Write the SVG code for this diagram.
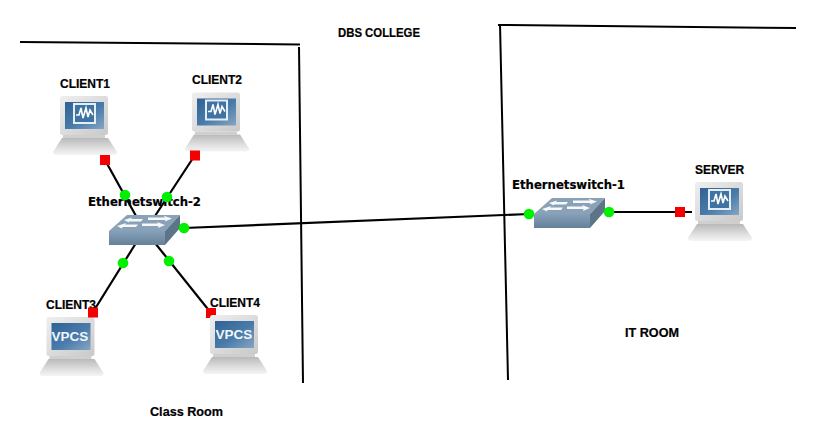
<svg xmlns="http://www.w3.org/2000/svg" width="816" height="443" viewBox="0 0 816 443">
<style>
text{font-family:"Liberation Sans",Arial,sans-serif;font-weight:bold;font-size:12px;fill:#000;stroke:#000;stroke-width:.2}
.sw{font-family:"DejaVu Sans",Verdana,sans-serif;font-size:11.700px}
.vpcs{fill:#f2f6fa;stroke:none;font-size:13.500px}
.wall{stroke:#000;fill:none;stroke-width:2}
.link{stroke:#000;fill:none;stroke-width:2.200}
.up{fill:#00f000}
.down{fill:#f40000}
</style>
<defs>
<linearGradient id="mon" x1="0" y1="0" x2="1" y2="1"><stop offset="0" stop-color="#efefef"/><stop offset="1" stop-color="#c9c9c9"/></linearGradient>
<linearGradient id="base" x1="0" y1="0" x2="0" y2="1"><stop offset="0" stop-color="#b9b9b9"/><stop offset=".55" stop-color="#dcdcdc"/><stop offset="1" stop-color="#f5f5f5"/></linearGradient>
<linearGradient id="scr" x1="0" y1="0" x2="1" y2="1"><stop offset="0" stop-color="#2f6193"/><stop offset=".55" stop-color="#4a7cab"/><stop offset="1" stop-color="#86a5c2"/></linearGradient>
<linearGradient id="front" x1="0" y1="0" x2="0" y2="1"><stop offset="0" stop-color="#85a0b9"/><stop offset="1" stop-color="#66809a"/></linearGradient>
<g id="pc">
<rect x="7" y="0" width="48" height="39" rx="2.500" fill="url(#mon)"/>
<rect x="10" y="39" width="42" height="3" fill="#cfcfcf"/>
<rect x="12" y="6" width="39" height="27" fill="url(#scr)"/>
<path d="M9 42H55L64 56Q64 59 61 59H3Q0 59 0 56Z" fill="url(#base)"/>
</g>
<g id="wave">
<rect x="21" y="8" width="21" height="19" fill="#3f73a3" stroke="#e6eef5" stroke-width="2"/>
<path d="M23 19L26 19L28 12L30 22L33 12L35 21L37 14L40 19" fill="none" stroke="#fff" stroke-width="1.600"/>
</g>
<g id="switch">
<path d="M0 16L18 0H71L56 16Z" fill="#8aa2b8"/>
<path d="M0 16H56V30H0Z" fill="url(#front)"/>
<path d="M56 16L71 0V13L56 30Z" fill="#5c7488"/>
<path d="M39 2.500H56L54.500 .800L63 3.500L56 6.500L56.500 5H39Z" fill="#f6f8fa"/>
<path d="M34 4H22L23 2.500L15 5L20 7.500L20 6.500H32Z" fill="#f6f8fa"/>
<path d="M33 8.500H49L48 7L56 10L49 13L49.500 11H33Z" fill="#f6f8fa"/>
<path d="M29 9.500H16L17 8L8 11L13 13.500L13.500 12H27Z" fill="#f6f8fa"/>
</g>
</defs>
<g id="walls">
<path class="wall" d="M20 42L300 44.500"/>
<path class="wall" d="M299 47L303 383"/>
<path class="wall" d="M498 25L796 28"/>
<path class="wall" d="M500 24L508 380"/>
</g>
<g id="connectors">
<path class="link" d="M105 160L136 216"/>
<path class="link" d="M195 155L155 216"/>
<path class="link" d="M93 312L136 243"/>
<path class="link" d="M211 313L155 243"/>
<path class="link" d="M184 228L529 214"/>
<path class="link" d="M609 212L692 212"/>
</g>
<g id="client1"><use href="#pc" x="53" y="96"/><use href="#wave" x="53" y="96"/><text x="60" y="88">CLIENT1</text><rect class="down" x="100" y="155" width="10" height="10"/></g>
<g id="client2"><use href="#pc" x="185" y="92.500"/><use href="#wave" x="185" y="92.500"/><text x="192" y="84">CLIENT2</text><rect class="down" x="190" y="150.500" width="10" height="10"/></g>
<g id="client3"><use href="#pc" x="39.500" y="317"/><text x="46" y="309">CLIENT3</text><text class="vpcs" x="70" y="341" text-anchor="middle">VPCS</text><rect class="down" x="88" y="307.500" width="10" height="10"/></g>
<g id="client4"><rect class="down" x="206" y="308" width="10" height="10"/><use href="#pc" x="203" y="315"/><text x="210" y="307">CLIENT4</text><text class="vpcs" x="234" y="339" text-anchor="middle">VPCS</text></g>
<g id="server"><use href="#pc" x="688" y="182"/><use href="#wave" x="688" y="182"/><text x="695" y="174">SERVER</text><rect class="down" x="675" y="207" width="10" height="10"/></g>
<g id="ethernetswitch-2"><use href="#switch" x="109" y="215"/><text class="sw" x="88" y="206">Ethernetswitch-2</text>
<circle class="up" cx="125" cy="195" r="5.300"/><circle class="up" cx="167" cy="197" r="5.300"/><circle class="up" cx="184" cy="228" r="5.300"/><circle class="up" cx="123" cy="263" r="5.300"/><circle class="up" cx="169" cy="261" r="5.300"/></g>
<g id="ethernetswitch-1"><use href="#switch" x="534" y="198"/><text class="sw" x="512" y="189">Ethernetswitch-1</text>
<circle class="up" cx="529" cy="214" r="5.300"/><circle class="up" cx="609" cy="212" r="5.300"/></g>
<g id="labels">
<text x="338" y="37" textLength="82" lengthAdjust="spacingAndGlyphs">DBS COLLEGE</text>
<text x="625" y="337" textLength="54" lengthAdjust="spacingAndGlyphs">IT ROOM</text>
<text x="150" y="416" textLength="73" lengthAdjust="spacingAndGlyphs">Class Room</text>
</g>
</svg>
